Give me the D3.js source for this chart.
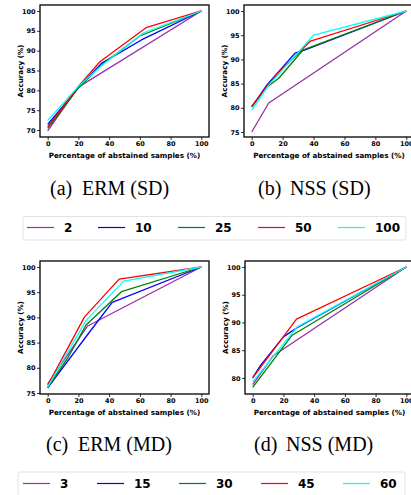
<!DOCTYPE html>
<html><head><meta charset="utf-8">
<script src="https://cdn.jsdelivr.net/npm/d3@7"></script>
<style>
html,body{margin:0;padding:0;background:#fff;overflow:hidden;}
svg{display:block;}
</style></head>
<body>
<svg id="c" width="411" height="495"></svg>
<script>
// ---------- data ----------
const xTicks = [0, 20, 40, 60, 80, 100];
const legendSD = ["2", "10", "25", "50", "100"];
const legendMD = ["3", "15", "30", "45", "60"];
const captions = ["(a)", "ERM (SD)", "(b)", "NSS (SD)", "(c)", "ERM (MD)", "(d)", "NSS (MD)"];
const xLabel = "Percentage of abstained samples (%)";
const yLabel = "Accuracy (%)";

const ermSD = [
  {k: "2",   x: [0, 20, 100],          y: [69.8, 80.8, 100]},
  {k: "10",  x: [0, 20, 35, 61, 100],  y: [71.4, 80.7, 86.8, 92.7, 100]},
  {k: "25",  x: [0, 20, 35, 60, 100],  y: [70.4, 80.6, 86.4, 93.7, 100]},
  {k: "50",  x: [0, 20, 34, 64, 100],  y: [70.8, 81.0, 87.2, 95.8, 100]},
  {k: "100", x: [0, 20, 35, 62, 100],  y: [72.4, 81.0, 86.2, 94.4, 100]}
];
const nssSD = [
  {k: "2",   x: [0, 11, 100],               y: [75.0, 81.0, 100]},
  {k: "10",  x: [0, 10, 28, 35, 100],       y: [80.2, 84.8, 91.3, 92.0, 100]},
  {k: "25",  x: [0, 10, 17.5, 33, 100],     y: [80.2, 84.3, 86.1, 91.9, 100]},
  {k: "50",  x: [0, 10, 18, 38, 100],       y: [80.3, 84.5, 87.5, 93.8, 100]},
  {k: "100", x: [0, 11, 40, 100],           y: [79.5, 84.7, 95.0, 100]}
];
const ermMD = [
  {k: "3",  x: [0, 26, 100],            y: [76.8, 88.3, 100]},
  {k: "15", x: [0, 27.5, 42, 100],      y: [76.0, 87.2, 93.0, 100]},
  {k: "30", x: [0, 13, 25, 48, 100],    y: [76.1, 81.9, 88.5, 95.1, 100]},
  {k: "45", x: [0, 24, 46.5, 100],      y: [76.5, 90.1, 97.6, 100]},
  {k: "60", x: [0, 25, 49.5, 100],      y: [76.2, 89.4, 97.2, 100]}
];
const nssMD = [
  {k: "3",  x: [0, 13.4, 100],          y: [78.8, 84.0, 100]},
  {k: "15", x: [0, 5, 20, 28.6, 100],   y: [80.0, 82.2, 87.4, 89.0, 100]},
  {k: "30", x: [0, 25.7, 100],          y: [78.3, 87.7, 100]},
  {k: "45", x: [0, 28.5, 100],          y: [80.0, 90.6, 100]},
  {k: "60", x: [0, 29, 100],            y: [79.3, 89.2, 100]}
];

// ---------- style / layout ----------
const colors = ["#9a2ea8", "#0000ff", "#008000", "#ff0000", "#00ffff"];
const svg = d3.select("#c");

const panels = [
  {data: ermSD, box: [40, 5, 209, 137],  ydom: [68.24, 101.51], yt: [70, 75, 80, 85, 90, 95, 100]},
  {data: nssSD, box: [244, 5, 414, 137], ydom: [73.97, 101.24], yt: [75, 80, 85, 90, 95, 100]},
  {data: ermMD, box: [40, 261, 209, 394], ydom: [74.8, 101.19], yt: [75, 80, 85, 90, 95, 100]},
  {data: nssMD, box: [245, 261, 414, 394], ydom: [77.1, 101.08], yt: [80, 85, 90, 95, 100]}
];

panels.forEach(p => {
  const [l, t, r, b] = p.box;
  const x = d3.scaleLinear().domain([-5, 105]).range([l, r]);
  const y = d3.scaleLinear().domain(p.ydom).range([b, t]);
  const g = svg.append("g");
  const line = d3.line().x(d => x(d[0])).y(d => y(d[1]));
  const clipId = "clip" + l + "_" + t;
  g.append("clipPath").attr("id", clipId).append("rect")
    .attr("x", l).attr("y", t).attr("width", r - l).attr("height", b - t);
  p.data.forEach((s, i) => {
    const pts = s.x.map((v, j) => [v, s.y[j]]);
    g.append("path").attr("d", line(pts)).attr("fill", "none")
      .attr("stroke", colors[i]).attr("stroke-width", 1.3)
      .attr("stroke-linejoin", "round")
      .attr("clip-path", "url(#" + clipId + ")");
  });
  // axes
  const xa = g.append("g").attr("transform", `translate(0,${b})`)
    .call(d3.axisBottom(x).tickValues(xTicks).tickSize(3).tickPadding(1.5).tickFormat(d3.format("d")));
  const ya = g.append("g").attr("transform", `translate(${l},0)`)
    .call(d3.axisLeft(y).tickValues(p.yt).tickSize(3).tickPadding(1.5).tickFormat(d3.format("d")));
  [xa, ya].forEach(a => {
    a.select(".domain").remove();
    a.selectAll("line").attr("stroke", "#000").attr("stroke-width", 0.8);
    a.selectAll("text").attr("font-family", "DejaVu Sans").attr("font-weight", "bold")
      .attr("font-size", 6.5).attr("fill", "#000");
  });
  g.append("rect").attr("x", l).attr("y", t).attr("width", r - l).attr("height", b - t)
    .attr("fill", "none").attr("stroke", "#000").attr("stroke-width", 1.3);
  g.append("text").attr("x", x(50)).attr("y", b + 21)
    .attr("text-anchor", "middle").attr("font-family", "DejaVu Sans").attr("font-weight", "bold")
    .attr("font-size", 7.2).text(xLabel);
  g.append("text").attr("transform", `translate(${l - 17},${(t + b) / 2}) rotate(-90)`)
    .attr("text-anchor", "middle").attr("font-family", "DejaVu Sans").attr("font-weight", "bold")
    .attr("font-size", 7.2).text(yLabel);
});

// captions
const capPos = [[50, 195, 82], [258, 195, 290], [46, 451, 78], [254, 451, 286]];
capPos.forEach((c, i) => {
  svg.append("text").attr("x", c[0]).attr("y", c[1]).attr("font-family", "Liberation Serif")
    .attr("font-size", 20).text(captions[i * 2]);
  svg.append("text").attr("x", c[2]).attr("y", c[1]).attr("font-family", "Liberation Serif")
    .attr("font-size", 20).attr("textLength", c === capPos[0] || c === capPos[1] ? null : null)
    .text(captions[i * 2 + 1]);
});

// legends
function legend(labels, box, lineStarts, cy) {
  const [l, t, r, b] = box;
  svg.append("rect").attr("x", l).attr("y", t).attr("width", r - l).attr("height", b - t)
    .attr("rx", 2).attr("fill", "#fff").attr("stroke", "#dcdcdc").attr("stroke-width", 0.8);
  labels.forEach((lab, i) => {
    const x0 = lineStarts[i];
    svg.append("rect").attr("x", x0).attr("y", cy - 0.6).attr("width", 27).attr("height", 1.2)
      .attr("fill", colors[i]);
    svg.append("text").attr("x", x0 + 37).attr("y", cy + 4.3)
      .attr("font-family", "DejaVu Sans").attr("font-weight", "bold").attr("font-size", 12)
      .attr("fill", "#000").text(lab);
  });
}
legend(legendSD, [23, 216.5, 406, 240], [27, 98, 178, 258, 338], 227.5);
legend(legendMD, [18, 472, 405, 500], [23, 97, 179, 261, 343], 483.5);
</script>
</body></html>
